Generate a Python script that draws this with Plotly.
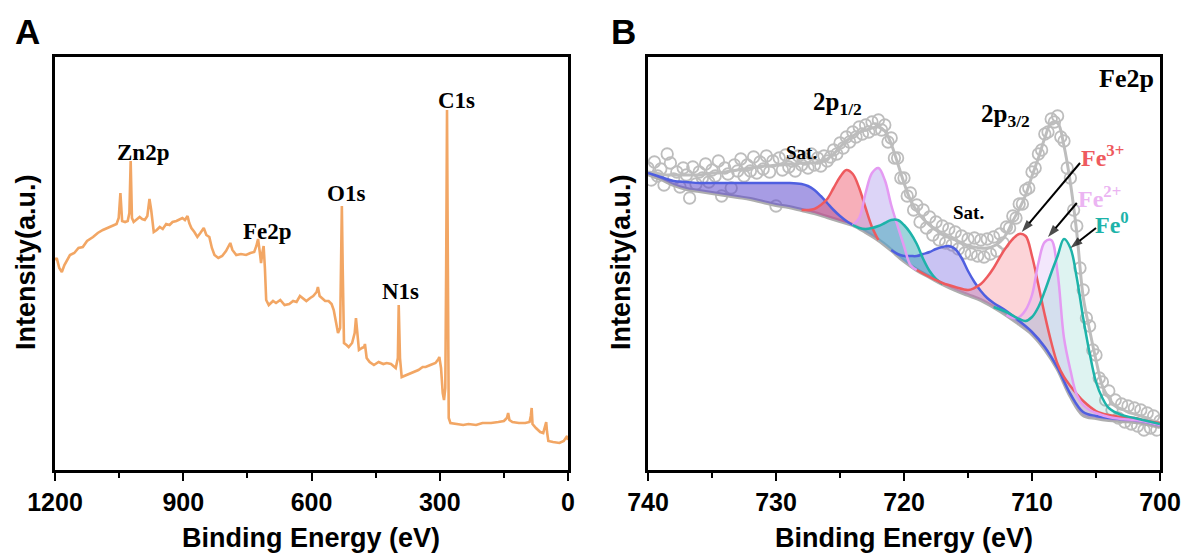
import numpy as np
import plotly.graph_objects as go

# ---------------- Panel A : XPS survey ----------------
SURVEY_BE = [1200, 1196, 1190, 1184, 1178, 1170, 1165, 1155, 1145, 1135, 1125, 1111, 1100, 1088, 1078, 1065,
             1056, 1051, 1047, 1043, 1036, 1030, 1026, 1023, 1020, 1016, 1008, 1002, 996, 990, 984, 979, 975,
             969, 962, 955, 948, 940, 932, 925, 916, 908, 902, 896, 890, 886, 881, 874, 867, 860, 852, 846,
             839, 833, 827, 818, 809, 800, 790, 785, 776, 765, 753, 743, 734, 729, 725, 721, 718, 715, 712,
             709, 706, 700, 690, 683, 673, 663, 652, 643, 635, 627, 620, 612, 603, 596, 588, 585, 581, 576,
             568, 560, 553, 548, 543, 538, 533, 531, 529, 527, 524, 518, 513, 505, 499, 496, 493, 489, 482,
             477, 475, 471, 464, 454, 443, 432, 424, 414, 403, 398, 396, 393, 389, 378, 366, 350, 340, 333,
             322, 310, 303, 301, 297, 293, 290, 287, 285, 283, 281, 279, 275, 260, 245, 233, 215, 200, 180,
             163, 150, 143, 140, 137, 130, 115, 100, 90, 87, 85, 83, 75, 65, 58, 54, 51, 49, 46, 35, 20, 10,
             5, 2, 0]
SURVEY_I = [208, 210, 200, 196, 203, 209, 213, 215, 220, 221, 227, 231, 235, 238, 240, 243,
            244, 250, 275, 247, 246, 247, 255, 307, 250, 246, 249, 251, 249, 248, 252, 269, 258,
            236, 238, 241, 239, 244, 243, 246, 247, 249, 250, 248, 252, 245, 240, 236, 231, 235, 240, 233,
            231, 220, 213, 210, 212, 217, 225, 218, 213, 214, 213, 215, 216, 222, 229, 216, 205, 215, 222,
            200, 168, 163, 167, 165, 168, 163, 164, 167, 166, 172, 170, 167, 170, 172, 176, 181, 172, 170,
            167, 167, 164, 158, 147, 135, 140, 200, 262, 200, 125, 123, 121, 125, 135, 150, 135, 118, 120,
            121, 124, 110, 106, 103, 106, 104, 105, 104, 100, 110, 163, 110, 91, 93, 95, 98, 101, 101,
            103, 105, 109, 111, 100, 75, 68, 80, 200, 358, 200, 50, 45, 44, 43, 44, 43, 45, 45,
            46, 47, 50, 55, 48, 46, 45, 45, 46, 52, 60, 44, 40, 36, 35, 40, 46, 36, 27, 26, 25, 27,
            30, 32, 28]

SURVEY_LABELS = ["Zn2p", "Fe2p", "O1s", "N1s", "C1s"]
SURVEY_LABEL_BE = [995, 704, 520, 392, 261]
SURVEY_LABEL_I = [316, 237, 275, 177, 368]

# ---------------- Panel B : Fe2p high resolution ----------------
FE_STEP = 0.25
RAW_I = [300, 288, 306, 292, 299, 283, 314, 305, 289, 296,
         281, 300, 293, 270, 301, 284, 296, 290, 304, 286,
         298, 292, 307, 272, 300, 294, 280, 303, 297, 309,
         292, 303, 297, 311, 295, 306, 299, 312, 296, 307,
         262, 310, 298, 313, 301, 307, 297, 312, 303, 309,
         300, 314, 303, 310, 302, 312, 307,
         311, 318, 314, 325, 320, 331, 326, 336, 331, 341,
         334, 343, 336, 346, 339, 348, 338, 343, 326, 330,
         310, 310, 290, 290, 272, 275, 258, 263,
         246, 258, 240, 251, 233, 246, 228, 242, 225, 239,
         223, 236, 219, 232, 215, 229, 214, 230, 212, 228,
         211, 229, 214, 231, 217, 234, 225, 241,
         240, 252, 250, 264, 264, 278, 280, 296, 300, 314,
         318, 334, 336, 349, 346, 352, 331, 327, 300, 290,
         258, 242, 200, 178,
         150, 142, 118, 113, 90, 86, 68, 77, 58, 68,
         50, 64, 46, 62, 44, 60, 42, 58, 38, 55,
         40, 52, 38, 47]
RAW_BE = list(np.round(740 - FE_STEP * np.arange(len(RAW_I)), 2))

FIT_I = [296, 295, 294, 293, 293, 293, 293, 293, 293, 294, 295, 295, 296, 297, 298, 299, 300, 301, 302, 302,
         303, 303, 304, 304, 305, 305, 305, 306, 309, 314, 321, 327, 332, 336, 338, 340, 341, 337, 324, 305,
         285, 268, 257, 249, 243, 238, 234, 231, 228, 225, 222, 221, 220, 220, 222, 226, 234, 247, 259, 273,
         292, 310, 330, 345, 345, 322, 285, 235, 171, 138, 108, 82, 70, 62, 59, 56, 54, 52, 50, 47, 45]
FIT_BE = list(np.round(740 - 0.5 * np.arange(len(FIT_I)), 2))

BG_BE = list(range(740, 699, -1))
BG_I = [294, 289, 283, 279, 277, 275, 273, 271, 269, 266, 263, 261, 258, 255, 251, 247, 243, 236, 228, 218,
        207, 198, 191, 184, 178, 173, 168, 161, 153, 144, 134, 119, 99, 72, 53, 50, 48, 47, 46, 44, 41]

SAT1_BE = [740, 739, 738, 737, 736, 735, 734, 733, 732, 731, 730, 729, 728, 727.5, 727, 726.5, 726, 725.5, 725, 724.5, 724]
SAT1_I = [295, 291, 287, 286, 285, 285, 285, 285, 285, 285, 285, 285, 284, 282, 278, 272, 265, 258, 252, 247, 243]

SAT2_BE = [721, 720.5, 720, 719.5, 719, 718.5, 718, 717.5, 717, 716.5, 716, 715.5, 715, 714.5, 714, 713.5, 713,
           712, 711, 710, 709, 708, 707, 706, 705, 704, 703, 702, 701, 700]
SAT2_I = [218, 214, 212, 212, 212, 214, 216, 219, 221, 222, 219, 210, 197, 186, 177, 170, 165,
          157, 147, 136, 121, 100, 74, 56, 52, 50, 49, 48, 46, 43]

FE3_A_BE = [728, 727.5, 727, 726.5, 726, 725.5, 725, 724.5, 724, 723.5, 723, 722.5, 722]
FE3_A_I = [258, 258, 259, 263, 269, 280, 291, 298, 294, 280, 260, 241, 228]

FE2_A_BE = [724, 723.5, 723, 722.5, 722, 721.5, 721, 720.5, 720, 719.5, 719]
FE2_A_I = [243, 250, 275, 295, 300, 288, 263, 242, 222, 203, 198]

FE0_A_BE = [724, 723.5, 723, 722.5, 722, 721.5, 721, 720.5, 720, 719.5, 719, 718.5, 718, 717.5, 717]
FE0_A_I = [243, 240, 239, 240, 242, 245, 248, 248, 243, 235, 224, 209, 197, 189, 184]

FE3_B_BE = [719, 718, 717, 716, 715, 714.5, 714, 713.5, 713, 712.5, 712, 711.5, 711, 710.5, 710, 709.5, 709,
            708.5, 708, 707.5, 707, 706.5, 706, 705, 704, 703, 702, 701, 700]
FE3_B_I = [198, 191, 185, 181, 178, 180, 184, 191, 200, 211, 221, 229, 234, 232, 212, 183, 153,
           126, 104, 91, 82, 74, 67, 57, 53, 51, 50, 47, 45]

FE2_B_BE = [712, 711.5, 711, 710.5, 710, 709.5, 709, 708.5, 708, 707.5, 707, 706.5, 706, 705.5, 705, 704, 703,
            702, 701, 700]
FE2_B_I = [153, 150, 151, 158, 173, 205, 226, 228, 195, 130, 98, 73, 63, 58, 55, 51, 49, 48, 46, 43]

FE0_B_BE = [713, 712, 711, 710.5, 710, 709.5, 709, 708.5, 708, 707.5, 707, 706.5, 706, 705.5, 705, 704.5, 704,
            703, 702, 701, 700]
FE0_B_I = [161, 156, 149, 147, 151, 161, 177, 195, 212, 229, 220, 190, 150, 115, 86, 70, 60, 53, 50, 47, 44]

# arrows (tail -> head) pointing at the 2p3/2 components
ARROW_TAIL_BE = [706.25, 706.5, 705.0]
ARROW_TAIL_I = [305, 265, 240]
ARROW_HEAD_BE = [710.8, 708.75, 707.0]
ARROW_HEAD_I = [236, 231, 220]

# ---------------- styling ----------------
SANS = "Liberation Sans"
SERIF = "Liberation Serif"
ORANGE = "#F2A664"
BLUE = "#4F5FE0"
RED = "#EE5A5E"
VIOLET = "#E49AF2"
TEAL = "#1DB3A9"
GREY = "#BDBDBD"

fig = go.Figure()

# Panel A
fig.add_trace(go.Scatter(x=SURVEY_BE, y=SURVEY_I, mode="lines", line=dict(color=ORANGE, width=2.6),
                         xaxis="x", yaxis="y", showlegend=False))

# Panel B: raw data circles
fig.add_trace(go.Scatter(x=RAW_BE, y=RAW_I, mode="markers",
                         marker=dict(symbol="circle-open", size=11.5, color=GREY, line=dict(width=1.8, color=GREY)),
                         xaxis="x2", yaxis="y2", showlegend=False))
# envelope
fig.add_trace(go.Scatter(x=FIT_BE, y=FIT_I, mode="lines", line=dict(color=GREY, width=3, shape="spline"),
                         xaxis="x2", yaxis="y2", showlegend=False))
# background
fig.add_trace(go.Scatter(x=BG_BE, y=BG_I, mode="lines", line=dict(color="#AEAEAE", width=4, shape="spline"),
                         xaxis="x2", yaxis="y2", showlegend=False))

components = [
    (SAT1_BE, SAT1_I, BLUE, "rgba(95,75,205,0.55)"),
    (SAT2_BE, SAT2_I, BLUE, "rgba(120,105,225,0.40)"),
    (FE3_A_BE, FE3_A_I, RED, "rgba(240,95,115,0.50)"),
    (FE2_A_BE, FE2_A_I, VIOLET, "rgba(185,170,240,0.50)"),
    (FE0_A_BE, FE0_A_I, TEAL, "rgba(40,160,175,0.45)"),
    (FE3_B_BE, FE3_B_I, RED, "rgba(245,120,135,0.32)"),
    (FE2_B_BE, FE2_B_I, VIOLET, "rgba(215,175,245,0.30)"),
    (FE0_B_BE, FE0_B_I, TEAL, "rgba(70,190,180,0.18)"),
]

for be, iv, col, fcol in components:
    lo, hi = min(be), max(be)
    base = [(b, v) for b, v in zip(BG_BE, BG_I) if lo <= b <= hi]
    base.sort(key=lambda p: p[0])
    px = list(be) + [p[0] for p in base]
    py = list(iv) + [p[1] for p in base]
    fig.add_trace(go.Scatter(x=px, y=py, mode="lines", fill="toself", fillcolor=fcol,
                             line=dict(width=0, shape="spline"), xaxis="x2", yaxis="y2",
                             showlegend=False, hoverinfo="skip"))

for be, iv, col, fcol in components:
    fig.add_trace(go.Scatter(x=be, y=iv, mode="lines", line=dict(color=col, width=2.5, shape="spline"),
                             xaxis="x2", yaxis="y2", showlegend=False))

# arrows drawn as line + arrow-head marker
for tx, ty, hx, hy in zip(ARROW_TAIL_BE, ARROW_TAIL_I, ARROW_HEAD_BE, ARROW_HEAD_I):
    fig.add_trace(go.Scatter(x=[tx, hx], y=[ty, hy], mode="lines+markers",
                             line=dict(color="black", width=2),
                             marker=dict(symbol="arrow", angleref="previous", size=[0, 13], color="black",
                                         line=dict(width=0)),
                             xaxis="x2", yaxis="y2", showlegend=False, hoverinfo="skip"))

annotations = []
for t, bx, iy in zip(SURVEY_LABELS, SURVEY_LABEL_BE, SURVEY_LABEL_I):
    annotations.append(dict(x=bx, y=iy, xref="x", yref="y", text="<b>%s</b>" % t, showarrow=False,
                            xanchor="center", yanchor="middle",
                            font=dict(family=SERIF, size=23, color="black")))

b_labels = [
    ("<b>Fe2p</b>", 702.6, 390, 26, "black"),
    ("<b>2p<sub>1/2</sub></b>", 725.2, 365, 25, "black"),
    ("<b>2p<sub>3/2</sub></b>", 712.1, 353, 25, "black"),
    ("<b>Sat.</b>", 728.0, 316, 19, "black"),
    ("<b>Sat.</b>", 715.0, 256, 19, "black"),
    ("<b>Fe<sup>3+</sup></b>", 704.5, 312, 24, RED),
    ("<b>Fe<sup>2+</sup></b>", 704.7, 271, 24, "#EBB4F2"),
    ("<b>Fe<sup>0</sup></b>", 703.75, 245, 24, TEAL),
]
for t, bx, iy, s, c in b_labels:
    annotations.append(dict(x=bx, y=iy, xref="x2", yref="y2", text=t, showarrow=False,
                            xanchor="center", yanchor="middle",
                            font=dict(family=SERIF, size=s, color=c)))

# panel letters and axis titles
for t, x in [("A", 27 / 1188), ("B", 623 / 1188)]:
    annotations.append(dict(x=x, y=1 - 32 / 556, xref="paper", yref="paper", text="<b>%s</b>" % t,
                            xanchor="center", yanchor="middle", showarrow=False,
                            font=dict(family=SANS, size=35, color="black")))
for x in [311 / 1188, 904 / 1188]:
    annotations.append(dict(x=x, y=1 - 538 / 556, xref="paper", yref="paper", text="<b>Binding Energy (eV)</b>",
                            xanchor="center", yanchor="middle", showarrow=False,
                            font=dict(family=SANS, size=27, color="black")))
for x in [26 / 1188, 621 / 1188]:
    annotations.append(dict(x=x, y=1 - 262 / 556, xref="paper", yref="paper", text="<b>Intensity(a.u.)</b>",
                            xanchor="center", yanchor="middle", showarrow=False, textangle=-90,
                            font=dict(family=SANS, size=27, color="black")))

ydom = [1 - 470 / 556, 1 - 57 / 556]
xcommon = dict(showline=True, mirror=True, linewidth=3, linecolor="black", showgrid=False, zeroline=False,
               ticks="outside", ticklen=8, tickwidth=2, tickcolor="black", automargin=False,
               tickfont=dict(family=SANS, size=25, color="black", weight="bold"))
ycommon = dict(showline=True, mirror=True, linewidth=3, linecolor="black", showgrid=False, zeroline=False,
               showticklabels=False, ticks="", range=[-2, 411], domain=ydom, automargin=False)

fig.update_layout(
    width=1188, height=556, margin=dict(l=0, r=0, t=0, b=0, pad=0, autoexpand=False),
    paper_bgcolor="white", plot_bgcolor="white", showlegend=False,
    xaxis=dict(domain=[55 / 1188, 568 / 1188], range=[1200, 0], tickvals=[1200, 900, 600, 300, 0],
               minor=dict(tickvals=[1050, 750, 450, 150], ticks="outside", ticklen=5, tickwidth=2, tickcolor="black"),
               anchor="y", **xcommon),
    yaxis=dict(anchor="x", **ycommon),
    xaxis2=dict(domain=[648 / 1188, 1160 / 1188], range=[740, 700], tickvals=[740, 730, 720, 710, 700],
                minor=dict(tickvals=[735, 725, 715, 705], ticks="outside", ticklen=5, tickwidth=2, tickcolor="black"),
                anchor="y2", **xcommon),
    yaxis2=dict(anchor="x2", **ycommon),
    annotations=annotations,
)

fig.write_html("out.html")
